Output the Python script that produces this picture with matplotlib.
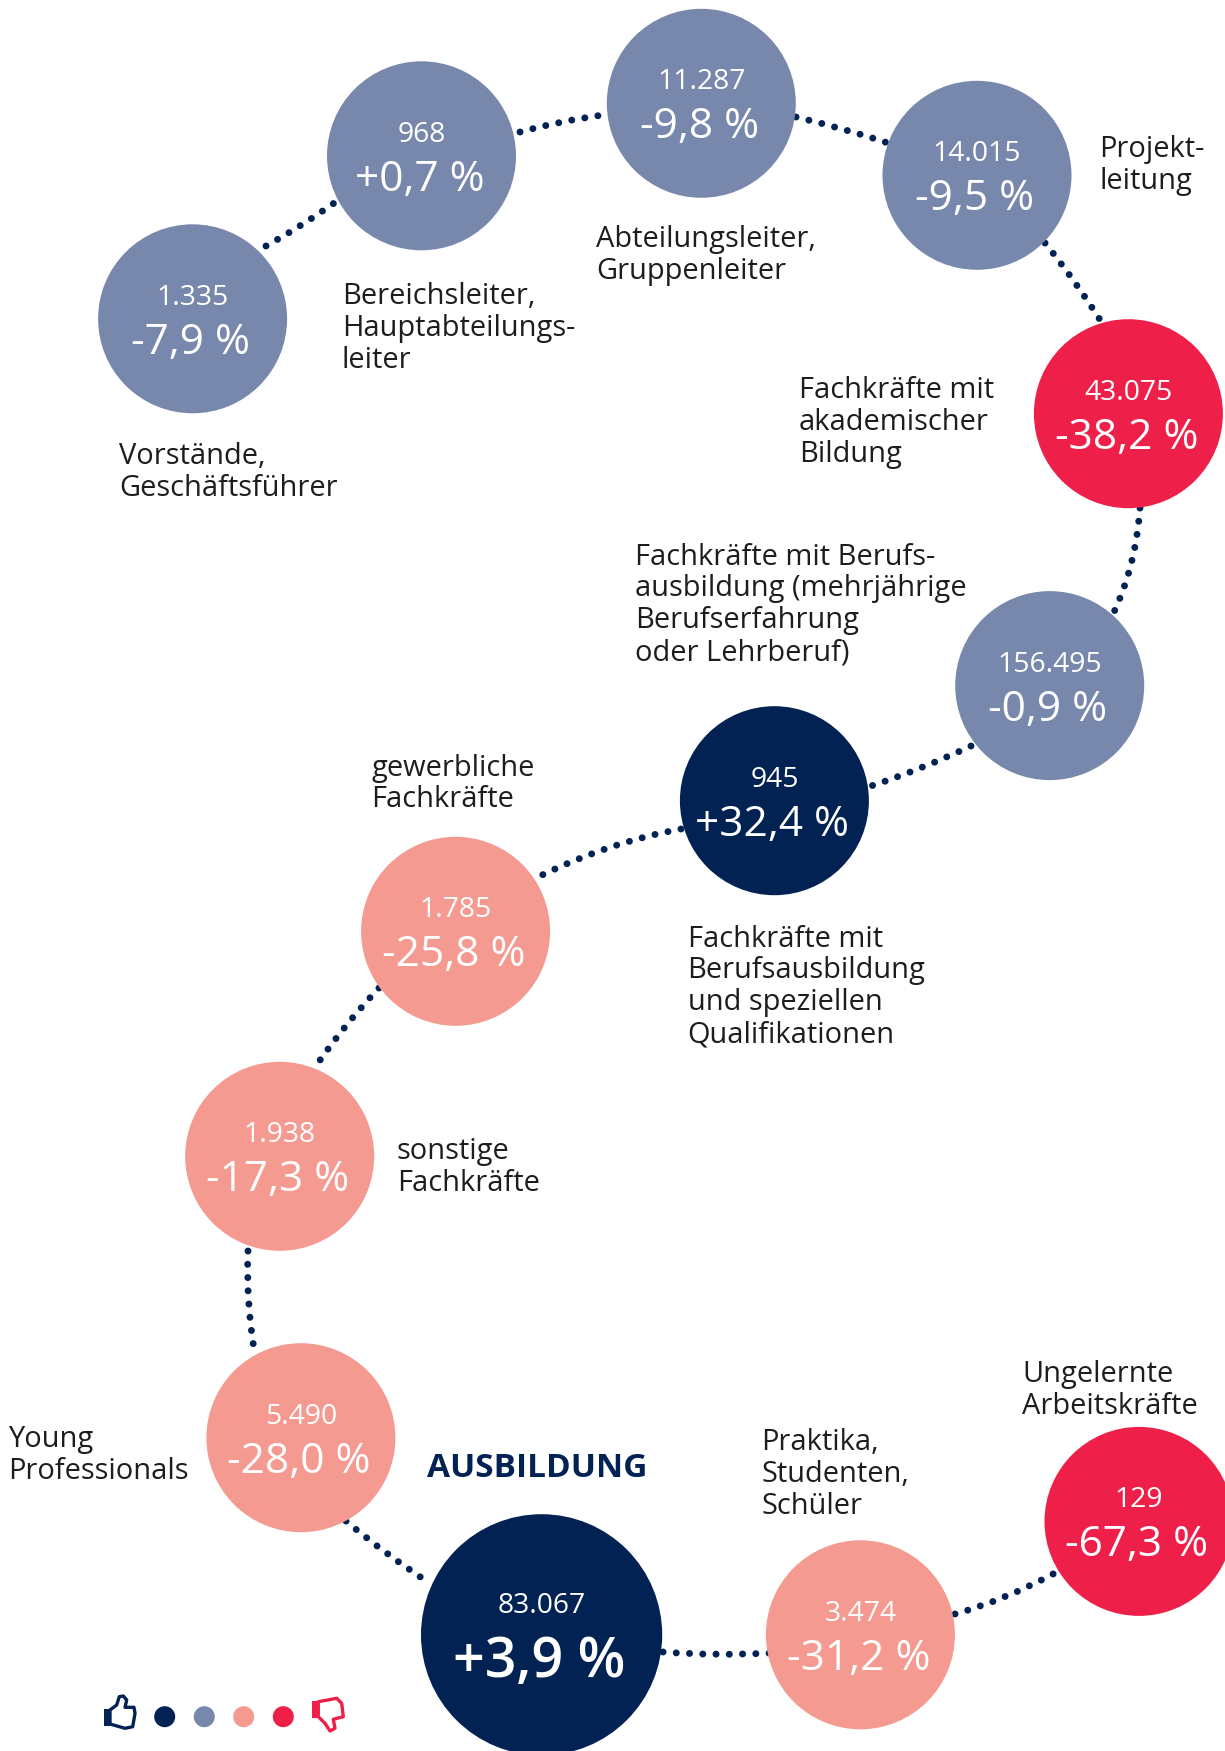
import matplotlib
matplotlib.use('Agg')
import matplotlib.pyplot as plt
from matplotlib.patches import Circle, PathPatch, Rectangle
from matplotlib.path import Path

plt.rcParams['font.family'] = ['Open Sans', 'DejaVu Sans']

NAVY = '#012252'
BLUE = '#7888ad'
SALMON = '#f59a90'
RED = '#ee2049'
TEXT = '#1d1d1b'

# bubble values, top of the arc first
counts = ['1.335', '968', '11.287', '14.015', '43.075', '156.495', '945',
          '1.785', '1.938', '5.490', '83.067', '3.474', '129']
changes = ['-7,9 %', '+0,7 %', '-9,8 %', '-9,5 %', '-38,2 %', '-0,9 %', '+32,4 %',
           '-25,8 %', '-17,3 %', '-28,0 %', '+3,9 %', '-31,2 %', '-67,3 %']
colors = [BLUE, BLUE, BLUE, BLUE, RED, BLUE, NAVY,
          SALMON, SALMON, SALMON, NAVY, SALMON, RED]
centers_x = [192.6, 421.5, 701.3, 977, 1128.4, 1049.7, 774.4, 455.6, 279.7, 300.9, 541.6, 860.4, 1139]
centers_y = [318.8, 155.8, 103.3, 175.3, 413.7, 685.6, 800.7, 931.3, 1156.3, 1437.7, 1634.8, 1634.8, 1521.4]
radii = [94.5] * 10 + [120.6] + [94.5] * 2

labels = ['Vorstände,\nGeschäftsführer',
          'Bereichsleiter,\nHauptabteilungs-\nleiter',
          'Abteilungsleiter,\nGruppenleiter',
          'Projekt-\nleitung',
          'Fachkräfte mit\nakademischer\nBildung',
          'Fachkräfte mit Berufs-\nausbildung (mehrjährige\nBerufserfahrung\noder Lehrberuf)',
          'Fachkräfte mit\nBerufsausbildung\nund speziellen\nQualifikationen',
          'gewerbliche\nFachkräfte',
          'sonstige\nFachkräfte',
          'Young\nProfessionals',
          'Praktika,\nStudenten,\nSchüler',
          'Ungelernte\nArbeitskräfte']
labels_x = [119, 342, 596, 1099.5, 799, 635, 687.5, 371.5, 397, 8, 761.5, 1022.5]
labels_y = [442, 282.5, 225.5, 135, 376.5, 542.5, 924.5, 753.5, 1137, 1425, 1428, 1360]

# dotted links: start, control, end
links = [((266, 246), (302, 226), (337, 201)),
         ((520, 132), (560, 121), (603, 115)),
         ((796, 117), (846, 129), (888, 143)),
         ((1045, 243), (1075, 280), (1104, 326)),
         ((1140, 508), (1136, 565), (1114, 612)),
         ((971, 746), (920, 770), (871, 786)),
         ((681, 829), (610, 842), (540, 876)),
         ((379, 988), (345, 1024), (318, 1063)),
         ((248, 1251), (246, 1300), (254, 1349)),
         ((346, 1521), (385, 1554), (431, 1584)),
         ((663, 1652), (715, 1656), (772, 1653)),
         ((955, 1614), (1005, 1600), (1055, 1573))]

legend_x = [164.7, 204.3, 243.7, 283.3]
legend_colors = [NAVY, BLUE, SALMON, RED]

thumb_up = [(110, 1710), (116.7, 1705), (119.3, 1696.7), (123.3, 1696), (126.7, 1700), (125, 1707.3),
            (134, 1707.3), (135, 1713.3), (132.7, 1726.7), (125, 1728.3), (110, 1724)]
thumb_down = [(318.3, 1701.7), (336.7, 1698.3), (341.7, 1703.3), (343.3, 1716.7), (333.3, 1719.3),
              (335, 1728.3), (330, 1731), (325, 1723.3), (318.3, 1716.7)]

fig = plt.figure(figsize=(12.25, 17.51), dpi=100)
ax = fig.add_axes([0, 0, 1, 1])
ax.set_xlim(0, 1225)
ax.set_ylim(1751, 0)
ax.axis('off')

for start, ctrl, end in links:
    p = Path([start, ctrl, end], [Path.MOVETO, Path.CURVE3, Path.CURVE3])
    ax.add_patch(PathPatch(p, fill=False, edgecolor=NAVY, lw=5, capstyle='round',
                           linestyle=(0, (0.01, 1.9)), zorder=1))

for i in range(len(counts)):
    ax.add_patch(Circle((centers_x[i], centers_y[i]), radii[i], color=colors[i], lw=0, zorder=2))
    big = radii[i] > 100
    ax.text(centers_x[i], centers_y[i] - 21 - (8 if big else 0), counts[i], color='white',
            fontsize=20.3, ha='center', va='center', zorder=3)
    ax.text(centers_x[i] - 2, centers_y[i] + 24 + (4 if big else 0), changes[i], color='white',
            fontsize=40 if big else 30.5, ha='center', va='center', zorder=3,
            fontweight='semibold' if big else 'normal')

for x, y, s in zip(labels_x, labels_y, labels):
    ax.text(x, y, s, color=TEXT, fontsize=20.9, ha='left', va='top', linespacing=1.13)

ax.text(427, 1468, 'AUSBILDUNG', color=NAVY, fontsize=24, fontweight='bold', ha='left', va='center')

for x, c in zip(legend_x, legend_colors):
    ax.add_patch(Circle((x, 1716.7), 10.5, color=c, lw=0))

ax.add_patch(plt.Polygon(thumb_up, closed=True, fill=False, edgecolor=NAVY, lw=2.4, joinstyle='round'))
ax.add_patch(Rectangle((103.5, 1709), 6, 17, color=NAVY, lw=0))
ax.add_patch(plt.Polygon(thumb_down, closed=True, fill=False, edgecolor=RED, lw=2.4, joinstyle='round'))
ax.add_patch(Rectangle((312.3, 1701), 6, 17, color=RED, lw=0))

fig.savefig('out.png', dpi=100, facecolor='white')
